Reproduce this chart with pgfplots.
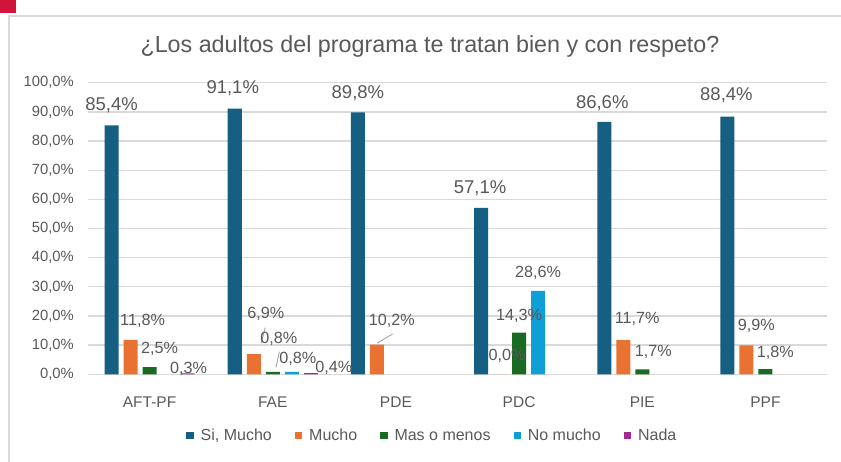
\documentclass[border=0pt]{standalone}
\usepackage{pgfplots}
\pgfplotsset{compat=1.18}
\usepackage{pgfplotstable}
\usepackage{fontspec}
\setmainfont{Liberation Sans}
\definecolor{cSi}{HTML}{156082}
\definecolor{cMu}{HTML}{E97132}
\definecolor{cMa}{HTML}{196B24}
\definecolor{cNo}{HTML}{0F9ED5}
\definecolor{cNa}{HTML}{A02B93}
\definecolor{txt}{HTML}{595959}
\definecolor{grd}{HTML}{D9D9D9}
\definecolor{lead}{HTML}{A6A6A6}
\definecolor{redsq}{HTML}{D0143C}

% x = category (0 AFT-PF, 1 FAE, 2 PDE, 3 PDC, 4 PIE, 5 PPF), y = percent, dx/dy = label offset (pt)
\pgfplotstableread{
x y dx dy
0 85.4 0 20
1 91.1 -2 20
2 89.8 0 19
3 57.1 -1 20
4 86.6 -2 19
5 88.4 -1 21
}\tSi
\pgfplotstableread{
x y dx dy
0 11.8 12 19
1 6.9 12 40
2 10.2 15 24
3 0.0 7 18
4 11.7 14 21
5 9.9 10 20
}\tMu
\pgfplotstableread{
x y dx dy
0 2.5 10 18
1 0.8 6 33
3 14.3 0 17
4 1.7 11 17
5 1.8 10 16
}\tMa
\pgfplotstableread{
x y dx dy
1 0.8 6 13
3 28.6 0 18
}\tNo
\pgfplotstableread{
x y dx dy
0 0.3 1 5
1 0.4 23 5
}\tNa

\begin{document}
\begin{tikzpicture}
\path[use as bounding box] (0pt,0pt) rectangle (841pt,461pt);
\fill[white] (0pt,0pt) rectangle (841pt,461pt);
\fill[redsq] (0pt,448pt) rectangle (16pt,461pt);
\draw[grd, line width=1.3pt] (9pt,-2pt) -- (9pt,445pt) -- (845pt,445pt);
\node[anchor=base, text=txt, font=\fontsize{23.3}{26}\selectfont, inner sep=0pt] at (430pt,408.7pt) {¿Los adultos del programa te tratan bien y con respeto?};
\begin{axis}[
  at={(88pt,86.7pt)}, anchor=south west,
  scale only axis, width=739pt, height=291.6pt,
  xmin=-0.5, xmax=5.5, ymin=0, ymax=100,
  ybar, bar width=14pt,
  xtick={0,1,2,3,4,5},
  xticklabels={AFT-PF,FAE,PDE,PDC,PIE,PPF},
  ytick={0,10,...,100},
  /pgf/number format/assume math mode=true,
  yticklabel={\pgfmathprintnumber[fixed,fixed zerofill,precision=1,use comma]{\tick}\%},
  ymajorgrids, major grid style={draw=grd, line width=1.3pt},
  axis line style={draw=none},
  major tick length=0pt, tick style={draw=none},
  yticklabel style={anchor=east, inner sep=0pt, xshift=-14pt, text=txt, font=\fontsize{14.8}{16}\selectfont},
  xticklabel style={anchor=base, inner sep=0pt, yshift=-33pt, text=txt, font=\fontsize{15.5}{17}\selectfont},
  point meta=y,
  nodes near coords={\pgfmathprintnumber[fixed,fixed zerofill,precision=1,use comma]{\pgfplotspointmeta}\%},
  visualization depends on={\thisrow{dx}\as\dx},
  visualization depends on={\thisrow{dy}\as\dy},
  every node near coord/.append style={anchor=center, inner sep=0pt, xshift=\dx, yshift=\dy, text=txt, font=\fontsize{16.2}{18}\selectfont},
  sq legend/.style={legend image code/.code={\fill[##1] (0pt,-3.6pt) rectangle (7.3pt,3.6pt);}},
  legend style={at={(0.466,-0.2106)}, anchor=center, draw=none, fill=none,
    font=\fontsize{16}{18}\selectfont, text=txt, legend columns=5,
    /tikz/every odd column/.append style={column sep=5pt},
    /tikz/every even column/.append style={column sep=21pt}},
  legend cell align=left,
  clip=false,
]
\addplot[fill=cSi, draw=none, bar shift=-38pt, sq legend,
  every node near coord/.append style={font=\fontsize{18.5}{20}\selectfont}] table[x=x,y=y] {\tSi};
\addlegendentry{Si, Mucho}
\addplot[fill=cMu, draw=none, bar shift=-19pt, sq legend] table[x=x,y=y] {\tMu};
\addlegendentry{Mucho}
\addplot[fill=cMa, draw=none, bar shift=0pt, sq legend] table[x=x,y=y] {\tMa};
\addlegendentry{Mas o menos}
\addplot[fill=cNo, draw=none, bar shift=19pt, sq legend] table[x=x,y=y] {\tNo};
\addlegendentry{No mucho}
\addplot[fill=cNa, draw=none, bar shift=38pt, sq legend] table[x=x,y=y] {\tNa};
\addlegendentry{Nada}
% leader lines of displaced labels
\draw[lead, line width=0.9pt] (axis cs:0.938,15.98) -- (axis cs:0.906,10.63);
\draw[lead, line width=0.9pt] (axis cs:1.054,7.75) -- (axis cs:1.027,2.40);
\draw[lead, line width=0.9pt] (axis cs:1.973,13.82) -- (axis cs:1.846,10.63);
\end{axis}
\end{tikzpicture}
\end{document}
